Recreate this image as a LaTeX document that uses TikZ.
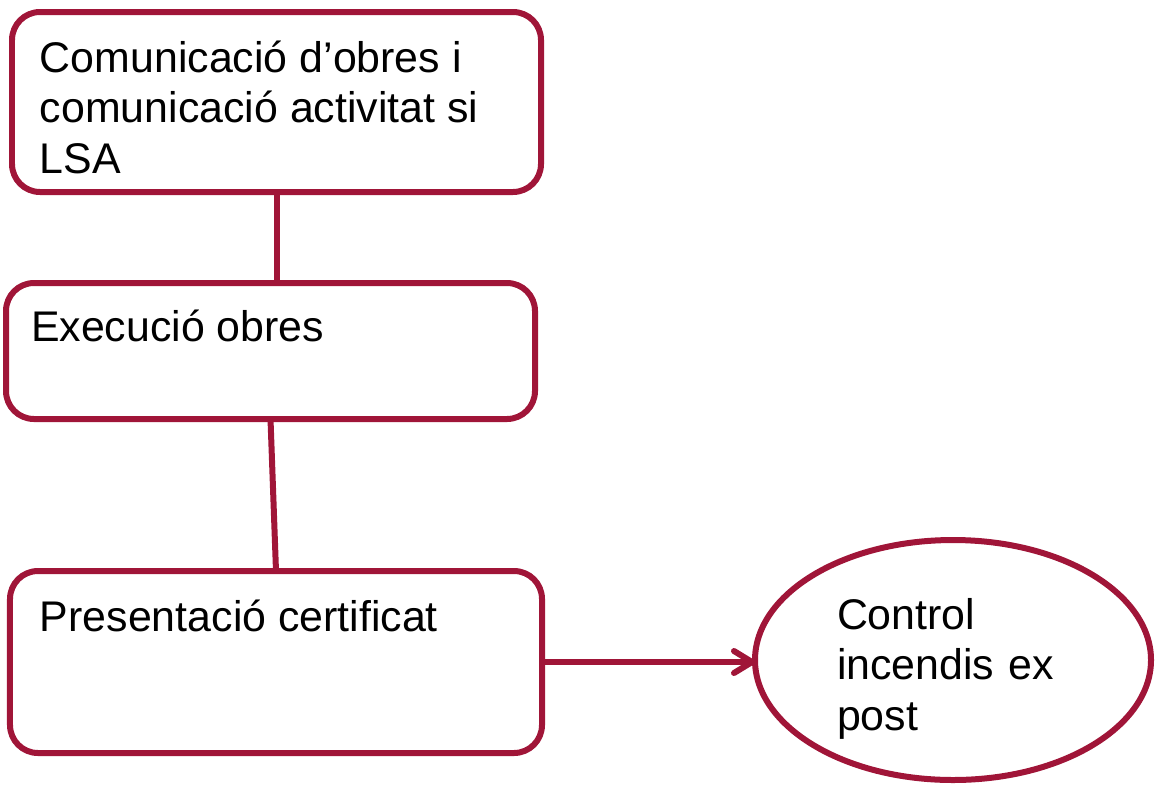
\documentclass[tikz,border=0pt]{standalone}
\usepackage{fontspec}
\setmainfont{Liberation Sans}
\usepackage{xcolor}
\usepackage{tikz}
\usetikzlibrary{arrows.meta,shapes.geometric,positioning,calc}
\definecolor{granate_10b}{RGB}{160,21,56}

\begin{document}
\begin{tikzpicture}[
rnd/.style={
  draw=granate_10b,
  rounded corners=0.56cm,
  line width=0.12cm,
  outer sep=0pt,
  inner xsep=0.56cm,
  inner ysep=0.5cm,
  font=\fontsize{24.4}{28.7}\selectfont
  },
oval/.style={
  draw=granate_10b,
  ellipse,
  line width=0.12cm,
  outer sep=0pt,
  inner sep=0pt,
  minimum width=7.92cm,
  minimum height=4.8cm,
  text width=4.64cm,
  align=left,
  font=\fontsize{24.4}{28.7}\selectfont
  },
ln/.style={
  draw=granate_10b,
  line width=0.12cm
  },
ar/.style={
  ln,
  -{Straight Barb[length=0.36cm,width=0.44cm,round]}
  },
node distance=1.82cm and 4.26cm
]

\useasboundingbox (0,0) rectangle (23.1,-15.7);

%The boxes on the left
\node[rnd] (comm) at (5.53,-2.04)
  {\parbox[c][2.6cm][t]{9.46cm}{\strut Comunicació d’obres i\\comunicació activitat si\\LSA}};
\node[rnd,below=of comm,xshift=-0.12cm,inner ysep=0.46cm,inner xsep=0.5cm] (exec)
  {\parbox[c][1.8cm][t]{9.58cm}{\strut Execució obres}};
\node[rnd,below=3.04cm of exec,xshift=0.11cm,inner xsep=0.6cm] (cert)
  {\parbox[c][2.64cm][t]{9.44cm}{\strut Presentació certificat}};

%The oval on the right
\node[oval,right=of cert,yshift=0.04cm] (ctrl)
  {\rule{0pt}{0.96cm}Control\\incendis ex\\post};

\draw[ln]  (comm.south) -- (exec.north -| comm.south);
\draw[ln]  (exec.south) -- (cert.north);
\draw[ar]  (cert.east) -- (cert.east -| ctrl.west);

\end{tikzpicture}
\end{document}
